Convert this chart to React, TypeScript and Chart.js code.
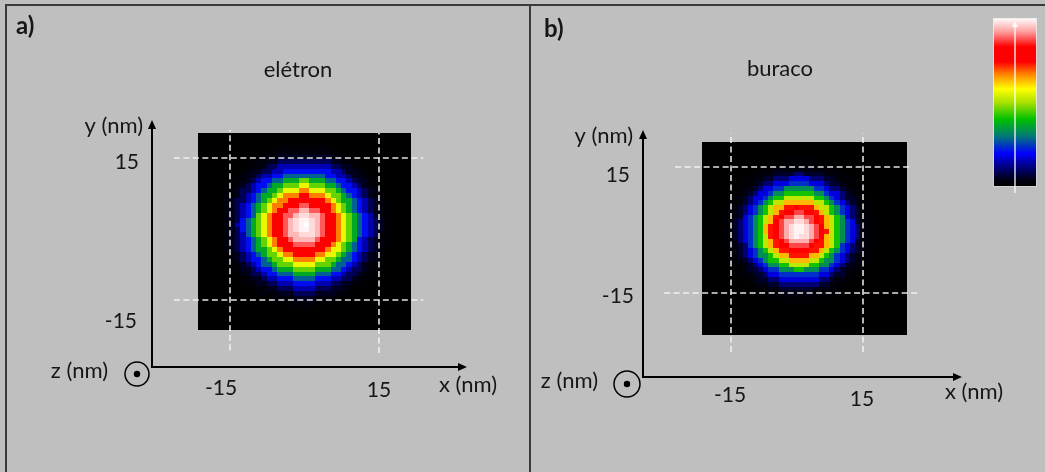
import React, { useEffect, useRef } from "react";
import { Chart, registerables } from "chart.js";

Chart.register(...registerables);

// ---------------- data ----------------
const panelLetters = ["a)", "b)"];
const panelTitles = ["elétron", "buraco"];
const xAxisName = "x (nm)";
const yAxisName = "y (nm)";
const zAxisName = "z (nm)";
const tickValues = [-15, 15];
const tickLabels = ["-15", "15"];

// normalised density vs distance from the centre, 1 nm steps
const electronProfile = [1.0, 0.99, 0.97, 0.94, 0.88, 0.82, 0.76, 0.67, 0.56, 0.46, 0.37, 0.28, 0.21, 0.15, 0.09, 0.05, 0.025, 0.01, 0];
const holeProfile = [1.0, 0.99, 0.97, 0.93, 0.87, 0.8, 0.73, 0.63, 0.52, 0.41, 0.33, 0.24, 0.18, 0.11, 0.06, 0.035, 0.015, 0.01, 0];

const electronCenter = [0.1, 0.8];
const holeCenter = [0.45, 0.0];
const electronExtentX = [-21.4, 21.4];
const electronExtentY = [-21.3, 20.1];
const holeExtentX = [-21.4, 24.8];
const holeExtentY = [-24.8, 20.9];
const gridCells = 40;

// axis ranges (nm)
const electronRangeX = [-30.7, 32.72];
const electronRangeY = [-29.155, 23.03];
const holeRangeX = [-35, 37.5];
const holeRangeY = [-35, 23.81];

// dashed guide segments [x, y] pairs (nm)
const electronGuides = [
  [[-15, -25.6], [-15, 20.9]],
  [[15, -26.2], [15, 20.3]],
  [[-26.3, 15], [23.9, 15]],
  [[-26.3, -15], [23.9, -15]],
];
const holeGuides = [
  [[-15, -29.05], [-15, 23.1]],
  [[15, -29.05], [15, 23.1]],
  [[-27.7, 15], [26.1, 15]],
  [[-30.2, -15], [27.3, -15]],
];

// colour map
const colorStops = [0, 0.04, 0.12, 0.2, 0.3, 0.4, 0.5, 0.58, 0.67, 0.74, 0.83, 0.92, 1];
const colorValues = ["#000000", "#000010", "#000080", "#0000ff", "#007878", "#00c000", "#a8e000", "#ffff00", "#ff8000", "#ff0000", "#ff0000", "#ffa0a0", "#ffffff"];

// ---------------- helpers ----------------
function hexToRgb(h: string) {
  return [parseInt(h.slice(1, 3), 16), parseInt(h.slice(3, 5), 16), parseInt(h.slice(5, 7), 16)];
}
function colorAt(t: number) {
  if (t <= colorStops[0]) return colorValues[0];
  for (let i = 0; i < colorStops.length - 1; i++) {
    if (t <= colorStops[i + 1]) {
      const f = (t - colorStops[i]) / (colorStops[i + 1] - colorStops[i]);
      const a = hexToRgb(colorValues[i]);
      const b = hexToRgb(colorValues[i + 1]);
      const c = a.map((v, k) => Math.round(v + (b[k] - v) * f));
      return `rgb(${c[0]},${c[1]},${c[2]})`;
    }
  }
  return colorValues[colorValues.length - 1];
}

type Cell = { x0: number; x1: number; y0: number; y1: number; v: number };
function buildCells(profile: number[], center: number[], ex: number[], ey: number[], n: number): Cell[] {
  const cells: Cell[] = [];
  const cw = (ex[1] - ex[0]) / n;
  const ch = (ey[1] - ey[0]) / n;
  for (let r = 0; r < n; r++) {
    for (let c = 0; c < n; c++) {
      const x0 = ex[0] + c * cw;
      const y0 = ey[0] + r * ch;
      const d = Math.hypot(x0 + cw / 2 - center[0], y0 + ch / 2 - center[1]);
      const k = Math.min(profile.length - 1, Math.round(d));
      cells.push({ x0, x1: x0 + cw, y0, y1: y0 + ch, v: profile[k] });
    }
  }
  return cells;
}

const electronCells = buildCells(electronProfile, electronCenter, electronExtentX, electronExtentY, gridCells);
const holeCells = buildCells(holeProfile, holeCenter, holeExtentX, holeExtentY, gridCells);

// ---------------- layout (style) ----------------
const FONT = "Lato, 'Open Sans', sans-serif";
const TEXT = "#161616";

type PanelLayout = {
  canvasLeft: number;
  width: number;
  padding: { left: number; top: number; right: number; bottom: number };
  letter: { x: number; y: number };
  title: { x: number; y: number };
  xTicks: { dx: number; dy: number }[];
  yTicks: { dx: number; dy: number }[];
  xName: { dx: number; dy: number };
  yName: { dx: number; dy: number };
  zName: { dx: number; dy: number };
  zCircle: { dx: number; dy: number; r: number };
  colorbar?: { x: number; y: number; w: number; h: number };
};

const layoutA: PanelLayout = {
  canvasLeft: 0,
  width: 530,
  padding: { left: 152, top: 120, right: 63, bottom: 105 },
  letter: { x: 16, y: 34 },
  title: { x: 298, y: 77 },
  xTicks: [{ dx: -9, dy: 28 }, { dx: 0, dy: 30 }],
  yTicks: [{ dx: -15, dy: 28 }, { dx: -13, dy: 11 }],
  xName: { dx: 1, dy: 25 },
  yName: { dx: -9, dy: 13 },
  zName: { dx: -44, dy: 11 },
  zCircle: { dx: -15, dy: 7, r: 12 },
};

const layoutB: PanelLayout = {
  canvasLeft: 530,
  width: 515,
  padding: { left: 113, top: 130, right: 83, bottom: 95 },
  letter: { x: 14, y: 37 },
  title: { x: 250, y: 76 },
  xTicks: [{ dx: -1, dy: 25 }, { dx: -1, dy: 29 }],
  yTicks: [{ dx: -9, dy: 10 }, { dx: -13, dy: 15 }],
  xName: { dx: 12, dy: 22 },
  yName: { dx: -10, dy: 13 },
  zName: { dx: -45, dy: 11 },
  zCircle: { dx: -16, dy: 7, r: 13 },
  colorbar: { x: 463, y: 18, w: 44, h: 169 },
};

function makePlugin(idx: number, cells: Cell[], L: PanelLayout) {
  return {
    id: "panel" + idx,
    beforeDatasetsDraw(chart: any) {
      const ctx = chart.ctx;
      const xs = chart.scales.x;
      const ys = chart.scales.y;
      ctx.save();
      for (const c of cells) {
        const px0 = Math.floor(xs.getPixelForValue(c.x0));
        const px1 = Math.ceil(xs.getPixelForValue(c.x1));
        const py0 = Math.ceil(ys.getPixelForValue(c.y0));
        const py1 = Math.floor(ys.getPixelForValue(c.y1));
        ctx.fillStyle = colorAt(c.v);
        ctx.fillRect(px0, py1, px1 - px0, py0 - py1);
      }
      ctx.restore();
    },
    afterDraw(chart: any) {
      const ctx = chart.ctx;
      const { left, right, top, bottom } = chart.chartArea;
      const xs = chart.scales.x;
      const ys = chart.scales.y;
      ctx.save();
      // axes with arrows
      ctx.strokeStyle = "#000";
      ctx.fillStyle = "#000";
      ctx.lineWidth = 2;
      ctx.beginPath();
      ctx.moveTo(left - 1, bottom);
      ctx.lineTo(right - 6, bottom);
      ctx.stroke();
      ctx.beginPath();
      ctx.moveTo(right, bottom);
      ctx.lineTo(right - 9, bottom - 4);
      ctx.lineTo(right - 9, bottom + 4);
      ctx.closePath();
      ctx.fill();
      ctx.beginPath();
      ctx.moveTo(left, bottom + 1);
      ctx.lineTo(left, top + 6);
      ctx.stroke();
      ctx.beginPath();
      ctx.moveTo(left, top);
      ctx.lineTo(left - 4, top + 9);
      ctx.lineTo(left + 4, top + 9);
      ctx.closePath();
      ctx.fill();

      // z circle
      const cx = left + L.zCircle.dx;
      const cy = bottom + L.zCircle.dy;
      ctx.lineWidth = 1.5;
      ctx.beginPath();
      ctx.arc(cx, cy, L.zCircle.r, 0, Math.PI * 2);
      ctx.stroke();
      ctx.beginPath();
      ctx.arc(cx, cy, 3.2, 0, Math.PI * 2);
      ctx.fill();

      // texts
      ctx.fillStyle = TEXT;
      ctx.textBaseline = "alphabetic";
      ctx.font = `bold 24px ${FONT}`;
      ctx.textAlign = "left";
      ctx.fillText(panelLetters[idx], L.letter.x, L.letter.y);

      ctx.font = `22px ${FONT}`;
      ctx.textAlign = "center";
      ctx.fillText(panelTitles[idx], L.title.x, L.title.y);

      ctx.font = `21px ${FONT}`;
      tickValues.forEach((v, i) => {
        ctx.textAlign = "center";
        ctx.fillText(tickLabels[i], xs.getPixelForValue(v) + L.xTicks[i].dx, bottom + L.xTicks[i].dy);
        ctx.textAlign = "right";
        ctx.fillText(tickLabels[i], left + L.yTicks[i].dx, ys.getPixelForValue(v) + L.yTicks[i].dy);
      });

      ctx.font = `22px ${FONT}`;
      ctx.textAlign = "center";
      ctx.fillText(xAxisName, right + L.xName.dx, bottom + L.xName.dy);
      ctx.textAlign = "right";
      ctx.fillText(yAxisName, left + L.yName.dx, top + L.yName.dy);
      ctx.fillText(zAxisName, left + L.zName.dx, bottom + L.zName.dy);

      // colour bar
      if (L.colorbar) {
        const cb = L.colorbar;
        const g = ctx.createLinearGradient(0, cb.y + cb.h, 0, cb.y);
        colorStops.forEach((s, i) => g.addColorStop(s, colorValues[i]));
        ctx.fillStyle = g;
        ctx.fillRect(cb.x, cb.y, cb.w, cb.h);
        ctx.strokeStyle = "rgba(235,235,235,0.9)";
        ctx.lineWidth = 1;
        ctx.strokeRect(cb.x + 0.5, cb.y + 0.5, cb.w - 1, cb.h - 1);
        const mx = cb.x + cb.w / 2;
        ctx.strokeStyle = "rgba(255,255,255,0.85)";
        ctx.lineWidth = 1.5;
        ctx.beginPath();
        ctx.moveTo(mx, cb.y + cb.h + 6);
        ctx.lineTo(mx, cb.y + 8);
        ctx.stroke();
        ctx.fillStyle = "rgba(255,255,255,0.9)";
        ctx.beginPath();
        ctx.moveTo(mx, cb.y + 3);
        ctx.lineTo(mx - 3, cb.y + 9);
        ctx.lineTo(mx + 3, cb.y + 9);
        ctx.closePath();
        ctx.fill();
      }
      ctx.restore();
    },
  };
}

function makeChart(canvas: HTMLCanvasElement, idx: number) {
  const L = idx === 0 ? layoutA : layoutB;
  const guides = idx === 0 ? electronGuides : holeGuides;
  const cells = idx === 0 ? electronCells : holeCells;
  const rx = idx === 0 ? electronRangeX : holeRangeX;
  const ry = idx === 0 ? electronRangeY : holeRangeY;
  return new Chart(canvas, {
    type: "line",
    data: {
      datasets: guides.map((g) => ({
        data: g.map(([x, y]) => ({ x, y })),
        borderColor: "rgba(245,245,245,0.92)",
        borderWidth: 1.6,
        borderDash: [6, 3.5],
        pointRadius: 0,
        fill: false,
        tension: 0,
        clip: false as any,
      })),
    },
    options: {
      animation: false,
      responsive: false,
      events: [],
      layout: { padding: L.padding },
      scales: {
        x: { type: "linear", min: rx[0], max: rx[1], display: false },
        y: { type: "linear", min: ry[0], max: ry[1], display: false },
      },
      plugins: { legend: { display: false }, tooltip: { enabled: false } },
    },
    plugins: [makePlugin(idx, cells, L) as any],
  } as any);
}

function Panel({ idx }: { idx: number }) {
  const ref = useRef<HTMLCanvasElement>(null);
  const L = idx === 0 ? layoutA : layoutB;
  useEffect(() => {
    if (!ref.current) return;
    const ch = makeChart(ref.current, idx);
    return () => ch.destroy();
  }, [idx]);
  return (
    <canvas
      ref={ref}
      width={L.width}
      height={472}
      style={{ position: "absolute", left: L.canvasLeft, top: 0, width: L.width, height: 472 }}
    />
  );
}

export default function App() {
  const border = "#3a3a3a";
  return (
    <div style={{ position: "absolute", left: 0, top: 0, width: 1045, height: 472, background: "#bfbfbf", overflow: "hidden" }}>
      <div style={{ position: "absolute", left: 5, top: 4, width: 1040, height: 2, background: border }} />
      <div style={{ position: "absolute", left: 5, top: 4, width: 2, height: 468, background: border }} />
      <div style={{ position: "absolute", left: 529, top: 4, width: 2, height: 468, background: border }} />
      <Panel idx={0} />
      <Panel idx={1} />
    </div>
  );
}
